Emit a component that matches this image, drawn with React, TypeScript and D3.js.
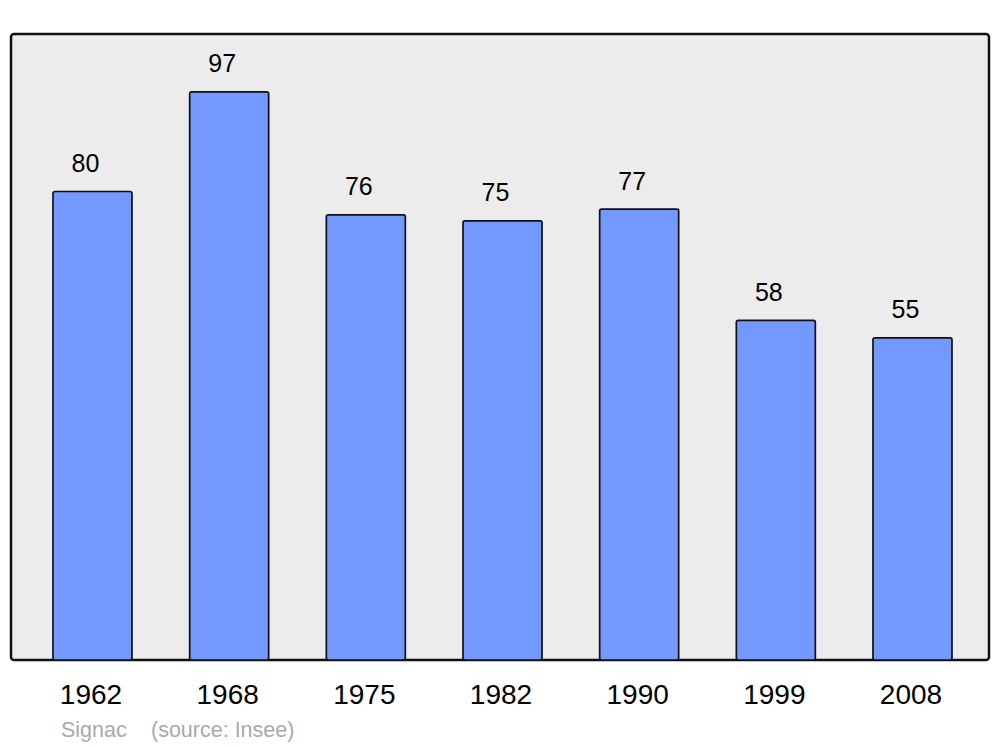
import React from "react";
import * as d3 from "d3";

const years = ["1962", "1968", "1975", "1982", "1990", "1999", "2008"];
const population = [80, 97, 76, 75, 77, 58, 55];
const sourceLabel = "Signac";
const sourceNote = "(source: Insee)";

export default function App() {
  const W = 1000;
  const H = 747;
  const panel = { x: 11, y: 34, w: 978, h: 626 };
  const x = d3
    .scaleBand<string>()
    .domain(years)
    .range([12, 993])
    .paddingInner(0.422)
    .paddingOuter(0.3);
  const y = d3.scaleLinear().domain([0, 106.9]).range([660, 34]);

  return (
    <svg
      width={W}
      height={H}
      style={{ position: "absolute", left: 0, top: 0 }}
      fontFamily="'Liberation Sans', Arial, sans-serif"
    >
      <rect x={0} y={0} width={W} height={H} fill="#ffffff" />
      <rect
        x={panel.x}
        y={panel.y}
        width={panel.w}
        height={panel.h}
        rx={3}
        fill="#ececec"
        stroke="#111"
        strokeWidth={2.5}
      />
      {years.map((yr, i) => {
        const v = population[i];
        const bx = x(yr)!;
        const bw = x.bandwidth();
        return (
          <g key={yr}>
            <rect
              x={bx}
              y={y(v)}
              width={bw}
              height={y(0) - y(v)}
              rx={2}
              fill="#7399ff"
              stroke="#111"
              strokeWidth={1.7}
            />
            <text
              x={bx + bw / 2 - 7}
              y={y(v) - 19.5}
              textAnchor="middle"
              fontSize={25}
              fill="#000"
            >
              {v}
            </text>
            <text
              x={bx + bw / 2 - 1.5}
              y={704}
              textAnchor="middle"
              fontSize={28}
              fill="#000"
            >
              {yr}
            </text>
          </g>
        );
      })}
      <text x={61} y={737} fontSize={21.5} fill="#aaaaaa">
        {sourceLabel}
      </text>
      <text x={151} y={737} fontSize={21.5} fill="#aaaaaa">
        {sourceNote}
      </text>
    </svg>
  );
}
